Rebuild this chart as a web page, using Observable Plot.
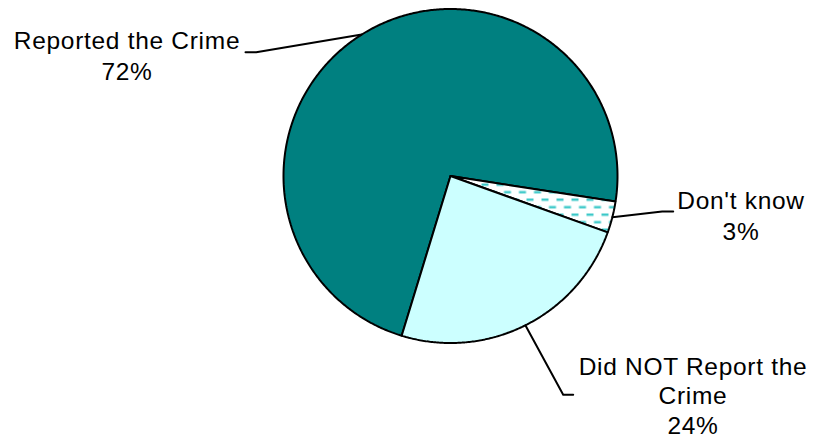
<!DOCTYPE html>
<html>
<head>
<meta charset="utf-8">
<script src="https://cdn.jsdelivr.net/npm/d3@7"></script>
<script src="https://cdn.jsdelivr.net/npm/@observablehq/plot@0.6"></script>
<style>
  html, body { margin: 0; padding: 0; background: #fff; }
  #chart { width: 814px; height: 441px; }
</style>
</head>
<body>
<div id="chart"></div>
<script>
// ---- data ----
const categories = ["Reported the Crime", "Don't know", "Did NOT Report the Crime"];
const values = [72, 3, 24];
const labelText = ["Reported the Crime\n72%", "Don't know\n3%", "Did NOT Report the\nCrime\n24%"];

// ---- layout (pixels) ----
const W = 814, H = 441;
const cx = 450, cy = 175.5, R = 167;
const startDeg = 197;
const fills = ["#008080", "url(#dkpat)", "#ccffff"];
const labelLayout = [
  {elbow: [255.7, 51.7], end: [245, 51.7], tx: 126.5, ty: 26.5, lh: 1.27},
  {elbow: [661.7, 211], end: [672.7, 211], tx: 740.5, ty: 186, lh: 1.27},
  {elbow: [562.7, 394.3], end: [572.7, 394.3], tx: 692.5, ty: 353, lh: 1.21}
];

const pie = d3.pie().sort(null).value(d => d).startAngle(startDeg * Math.PI / 180).endAngle(startDeg * Math.PI / 180 + 2 * Math.PI);
const arcs = pie(values);
const px = a => cx + R * Math.sin(a);
const py = a => cy - R * Math.cos(a);

const slicePts = [];
arcs.forEach((a, i) => {
  const name = categories[i];
  slicePts.push({name, x: cx, y: cy});
  const n = Math.max(4, Math.ceil((a.endAngle - a.startAngle) / (0.5 * Math.PI / 180)));
  for (let k = 0; k <= n; k++) {
    const t = a.startAngle + (a.endAngle - a.startAngle) * k / n;
    slicePts.push({name, x: px(t), y: py(t)});
  }
  slicePts.push({name, x: cx, y: cy});
});

const leaderPts = [];
const labels = [];
arcs.forEach((a, i) => {
  const m = (a.startAngle + a.endAngle) / 2;
  const L = labelLayout[i];
  leaderPts.push({name: categories[i], x: px(m), y: py(m)});
  leaderPts.push({name: categories[i], x: L.elbow[0], y: L.elbow[1]});
  leaderPts.push({name: categories[i], x: L.end[0], y: L.end[1]});
  labels.push({text: labelText[i], x: L.tx, y: L.ty, lh: L.lh});
});

const textMarks = labels.map(l =>
  Plot.text([l], {x: "x", y: "y", text: "text", lineAnchor: "top", textAnchor: "middle", fontSize: 24.5, lineHeight: l.lh, fill: "#000"})
);

const plot = Plot.plot({
  width: W, height: H,
  margin: 0,
  style: {background: "#fff", fontFamily: "'Liberation Sans', Arial, sans-serif"},
  x: {domain: [0, W], range: [0, W], axis: null},
  y: {domain: [0, H], range: [0, H], axis: null},
  color: {type: "ordinal", domain: categories, range: fills},
  marks: [
    Plot.line(slicePts, {x: "x", y: "y", z: "name", fill: "name", stroke: "#000", strokeWidth: 2, strokeLinejoin: "miter"}),
    Plot.line(leaderPts, {x: "x", y: "y", z: "name", stroke: "#000", strokeWidth: 2}),
    ...textMarks
  ]
});

const svg = d3.select(plot);
svg.selectAll("text").attr("letter-spacing", "0.7");
const defs = svg.insert("defs", ":first-child");
const pat = defs.append("pattern").attr("id", "dkpat").attr("patternUnits", "userSpaceOnUse")
  .attr("width", 15).attr("height", 15);
pat.append("rect").attr("width", 15).attr("height", 15).attr("fill", "#fff");
pat.append("rect").attr("x", 1).attr("y", 3).attr("width", 7).attr("height", 2.4).attr("fill", "#3cc8c8");
pat.append("rect").attr("x", 8.5).attr("y", 10.5).attr("width", 7).attr("height", 2.4).attr("fill", "#3cc8c8");
pat.append("rect").attr("x", -6.5).attr("y", 10.5).attr("width", 7).attr("height", 2.4).attr("fill", "#3cc8c8");

document.getElementById("chart").appendChild(plot);
</script>
</body>
</html>
